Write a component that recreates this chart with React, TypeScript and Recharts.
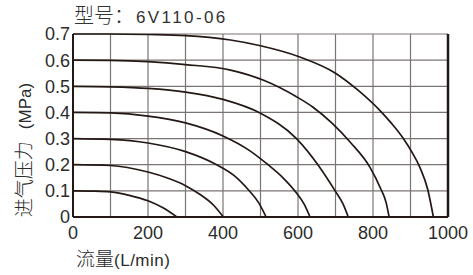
import { LineChart, Line, XAxis, YAxis, CartesianGrid, ReferenceLine } from 'recharts';

// flow (L/min) / pressure (MPa) points
const flow01 = [0, 60, 100, 150, 200, 240, 277];
const p01 = [0.1, 0.099, 0.096, 0.083, 0.062, 0.035, 0];

const flow02 = [0, 100, 200, 250, 300, 340, 375, 401];
const p02 = [0.2, 0.197, 0.172, 0.15, 0.12, 0.085, 0.045, 0];

const flow03 = [0, 100, 200, 300, 383, 430, 467, 495, 515];
const p03 = [0.3, 0.297, 0.283, 0.25, 0.2, 0.158, 0.105, 0.055, 0];

const flow04 = [0, 100, 200, 300, 400, 470, 520, 560, 597, 616, 632];
const p04 = [0.4, 0.398, 0.386, 0.36, 0.31, 0.255, 0.2, 0.15, 0.09, 0.05, 0];

const flow05 = [0, 100, 200, 300, 400, 500, 596, 653, 699, 720, 734];
const p05 = [0.5, 0.498, 0.492, 0.478, 0.45, 0.397, 0.3, 0.2, 0.1, 0.05, 0];

const flow06 = [0, 100, 200, 300, 420, 510, 596, 640, 690, 740, 792, 820, 835, 843];
const p06 = [0.6, 0.599, 0.594, 0.583, 0.562, 0.522, 0.46, 0.42, 0.36, 0.285, 0.19, 0.11, 0.055, 0];

const flow07 = [0, 100, 200, 300, 420, 500, 605, 700, 760, 820, 850, 880, 905, 925, 946, 961];
const p07 = [0.7, 0.7, 0.698, 0.694, 0.677, 0.655, 0.612, 0.55, 0.485, 0.405, 0.357, 0.302, 0.245, 0.19, 0.105, 0];

const xTicks = [0, 100, 200, 300, 400, 500, 600, 700, 800, 900, 1000];
const yTicks = [0, 0.1, 0.2, 0.3, 0.4, 0.5, 0.6, 0.7];

const titleCn = '型号：';
const model = '6V110-06';
const yLabelCn = '进气压力';
const yLabelUnit = '(MPa)';
const xLabelCn = '流量';
const xLabelUnit = '(L/min)';

const curves = [
  [flow01, p01],
  [flow02, p02],
  [flow03, p03],
  [flow04, p04],
  [flow05, p05],
  [flow06, p06],
  [flow07, p07],
].map(([fs, ps]) => fs.map((f, i) => ({ flow: f, p: ps[i] })));

const ink = '#231815';
const latin = '"Liberation Sans", Arial, sans-serif';
const cjk = '"Noto Sans CJK SC", "Liberation Sans", sans-serif';

export default function App() {
  return (
    <div style={{ position: 'absolute', left: 0, top: 0, width: 473, height: 275, background: '#fff' }}>
      <LineChart width={473} height={275} margin={{ top: 34, right: 25, bottom: 28, left: 33 }}>
        <CartesianGrid stroke="#7a7573" strokeWidth={1.2} />
        <XAxis
          type="number"
          dataKey="flow"
          domain={[0, 1000]}
          ticks={xTicks}
          tickFormatter={(v) => (v % 200 === 0 ? String(v) : '')}
          height={30}
          tickLine={false}
          tickSize={0}
          tickMargin={9}
          axisLine={{ stroke: ink, strokeWidth: 2 }}
          tick={{ fill: '#2b2b2b', fontSize: 18, fontFamily: latin }}
          allowDuplicatedCategory={false}
        />
        <YAxis
          type="number"
          domain={[0, 0.7]}
          ticks={yTicks}
          tickFormatter={(v) => (v === 0 ? '0' : v.toFixed(1))}
          width={40}
          tickLine={false}
          tickSize={0}
          tickMargin={3}
          axisLine={{ stroke: ink, strokeWidth: 2 }}
          tick={{ fill: '#2b2b2b', fontSize: 18, fontFamily: latin }}
        />
        <ReferenceLine x={1000} stroke={ink} strokeWidth={2.5} />
        {curves.map((d, i) => (
          <Line
            key={i}
            data={d}
            dataKey="p"
            type="monotone"
            stroke={ink}
            strokeWidth={1.7}
            dot={false}
            activeDot={false}
            isAnimationActive={false}
          />
        ))}
      </LineChart>

      <div
        style={{
          position: 'absolute',
          left: 74,
          top: 4,
          lineHeight: '22px',
          color: '#333',
          whiteSpace: 'nowrap',
        }}
      >
        <span style={{ fontFamily: cjk, fontSize: 20, fontWeight: 300 }}>{titleCn}</span>
        <span style={{ fontFamily: latin, fontSize: 17, letterSpacing: 2.4, marginLeft: 2 }}>{model}</span>
      </div>

      <div
        style={{
          position: 'absolute',
          left: 22.5 - 80,
          top: 150 - 11,
          width: 160,
          height: 22,
          lineHeight: '22px',
          textAlign: 'center',
          color: '#2b2b2b',
          whiteSpace: 'nowrap',
          transform: 'rotate(-90deg)',
        }}
      >
        <span style={{ fontFamily: cjk, fontSize: 19, fontWeight: 300 }}>{yLabelCn}</span>
        <span style={{ fontFamily: latin, fontSize: 17, marginLeft: 12 }}>{yLabelUnit}</span>
      </div>

      <div
        style={{
          position: 'absolute',
          left: 76,
          top: 247,
          lineHeight: '22px',
          color: '#2b2b2b',
          whiteSpace: 'nowrap',
        }}
      >
        <span style={{ fontFamily: cjk, fontSize: 19, fontWeight: 300 }}>{xLabelCn}</span>
        <span style={{ fontFamily: latin, fontSize: 17, letterSpacing: 0.5 }}>{xLabelUnit}</span>
      </div>
    </div>
  );
}
